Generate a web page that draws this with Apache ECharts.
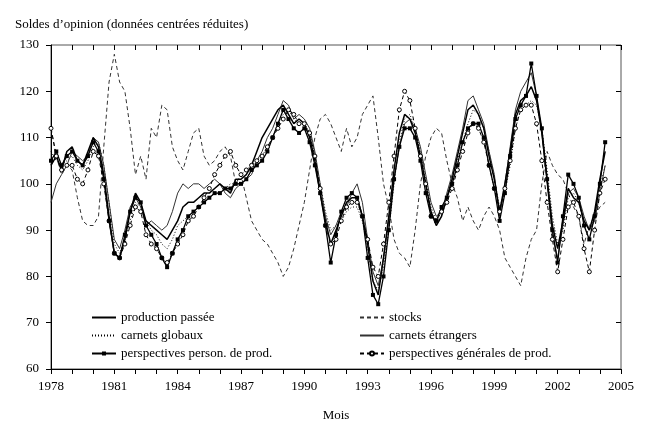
<!DOCTYPE html>
<html><head><meta charset="utf-8">
<script src="https://cdn.jsdelivr.net/npm/echarts@6/dist/echarts.min.js"></script>
<style>html,body{margin:0;padding:0;background:#fff}#c{width:650px;height:427px}</style>
</head><body><div id="c"></div>
<script>
// Quarterly observations, 1978 Q1 .. 2004 Q2 (time in decimal years)
const startYear = 1978;
const nQuarters = 106;
const quarters = Array.from({length: nQuarters}, (_, i) => startYear + i / 4);

const productionPassee = [
104,106,103,107, 108,105,104,107, 110,108,102,93, 85,84,88,94,
98,96,92,91, 90,89,88,90, 92,95,96,96, 97,98,98,99,
100,99,98,101, 101,102,104,107, 110,112,114,116, 117,115,113,114,
113,110,105,98, 92,87,90,93, 96,97,97,93, 87,79,76,84,
93,103,111,115, 114,111,106,100, 94,91,93,97, 101,106,111,116,
117,115,112,106, 101,94,100,107, 115,118,119,121, 118,111,101,91,
86,92,99,97, 96,92,90,94, 101,107];

const carnetsGlobaux = [
107,105,104,105, 106,104,103,105, 108,109,104,96, 87,85,88,92,
96,95,92,90, 89,87,86,88, 91,92,93,94, 95,96,97,98,
98,99,100,100, 100,101,103,105, 106,108,110,113, 115,116,114,113,
113,111,106,100, 94,90,91,92, 94,95,95,92, 86,79,77,82,
90,100,109,114, 115,112,107,101, 95,92,93,97, 101,105,109,113,
116,115,112,107, 101,95,98,104, 112,116,117,118, 117,112,103,93,
87,90,97,98, 96,92,90,93, 99,104];

const carnetsEtrangers = [
96,100,102,104, 107,106,105,106, 110,109,104,96, 88,86,90,95,
97,95,91,92, 91,90,91,94, 98,100,99,100, 100,99,100,101,
100,98,97,99, 100,101,102,105, 107,110,112,115, 118,117,114,115,
114,112,107,100, 93,89,91,94, 95,98,100,96, 88,81,78,84,
92,101,108,113, 114,112,108,102, 96,93,94,98, 102,107,112,118,
119,116,113,107, 102,93,100,108, 116,120,122,124, 119,111,100,89,
84,91,98,99, 97,93,90,92, 98,104];

const perspPerson = [
105,107,104,106, 107,105,104,106, 109,107,101,92, 85,84,89,94,
97,96,91,89, 87,84,82,85, 88,90,93,94, 95,96,97,98,
98,99,99,100, 100,101,103,104, 105,107,110,113, 116,114,112,111,
112,109,104,98, 91,83,89,94, 97,98,97,93, 84,76,74,80,
90,101,108,112, 112,110,105,98, 93,92,95,97, 100,104,109,112,
113,113,110,104, 99,92,98,106, 114,117,119,126, 119,112,101,90,
83,93,102,100, 97,91,88,93, 100,109];

const perspGenerales = [
112,106,103,104, 104,101,100,103, 107,106,100,92, 85,84,87,91,
95,94,89,87, 86,84,83,85, 87,89,92,93, 95,97,99,102,
104,106,107,104, 102,103,104,105, 106,108,110,112, 114,116,115,113,
113,111,106,99, 91,87,88,92, 95,96,96,93, 88,82,80,87,
96,106,116,120, 118,112,106,100, 93,92,94,96, 99,103,107,111,
113,112,109,104, 99,94,99,105, 112,116,117,117, 113,105,96,88,
81,88,95,96, 93,86,81,90, 98,101];

const stocks = [
112,106,102,104, 103,97,92,91, 91,93,108,122, 128,122,120,112,
102,106,101,112, 110,117,116,108, 105,103,107,111, 112,106,104,105,
107,108,106,100, 102,97,92,90, 88,87,85,83, 80,82,86,91,
96,103,110,114, 115,113,110,107, 112,108,110,115, 117,119,110,100,
95,88,85,84, 82,90,100,106, 110,112,111,105, 100,97,92,95,
92,90,93,95, 93,90,84,82, 80,78,84,88, 90,100,107,104,
102,101,98,95, 93,87,91,93, 95,96];

const yTicks = {min: 60, max: 130, step: 10};
const xTicks = {min: 1978, max: 2005, step: 1, labelEvery: 3};

const names = {
  pp: 'production passée', cg: 'carnets globaux', pperso: 'perspectives person. de prod.',
  st: 'stocks', ce: 'carnets étrangers', pg: 'perspectives générales de prod.'
};

const pair = arr => arr.map((v, i) => [quarters[i], v]);
const FONT = 'Liberation Serif';
const lineOnly = name => ({name: name, itemStyle: {opacity: 0}});

const chart = echarts.init(document.getElementById('c'), null, {renderer: 'canvas'});
const baseX = {type: 'value', min: xTicks.min, max: xTicks.max, interval: xTicks.step, splitLine: {show: false}};
const baseY = {type: 'value', min: yTicks.min, max: yTicks.max, interval: yTicks.step, splitLine: {show: false}};
const legendCommon = {orient: 'vertical', top: 311, itemGap: 5, itemWidth: 24, itemHeight: 5, padding: 0,
  textStyle: {fontFamily: FONT, fontSize: 13, color: '#000'}};
chart.setOption({
  animation: false,
  backgroundColor: '#fff',
  textStyle: {fontFamily: FONT, color: '#000'},
  title: {text: 'Soldes d\u2019opinion (données centrées réduites)', left: 10, top: 13,
    textStyle: {fontFamily: FONT, fontSize: 13, fontWeight: 'normal', color: '#000'}},
  grid: {left: 51, right: 29, top: 45, bottom: 55, show: true, borderColor: '#555', borderWidth: 1, backgroundColor: 'transparent'},
  xAxis: [
    Object.assign({}, baseX, {
      name: 'Mois', nameLocation: 'middle', nameGap: 40,
      nameTextStyle: {fontFamily: FONT, fontSize: 13, color: '#000'},
      axisLine: {onZero: false, lineStyle: {color: '#000', width: 1}},
      axisTick: {length: 5, lineStyle: {color: '#000'}},
      axisLabel: {fontFamily: FONT, fontSize: 13, color: '#000', margin: 11,
        formatter: v => ((Math.round(v) - xTicks.min) % xTicks.labelEvery === 0 ? String(Math.round(v)) : '')}
    }),
    Object.assign({}, baseX, {
      axisLine: {show: false, onZero: false}, axisTick: {inside: true, length: 5, lineStyle: {color: '#000'}},
      axisLabel: {show: false}
    })
  ],
  yAxis: [
    Object.assign({}, baseY, {
      axisLine: {show: true, onZero: false, lineStyle: {color: '#000', width: 1}},
      axisTick: {show: true, length: 5, lineStyle: {color: '#000'}},
      axisLabel: {fontFamily: FONT, fontSize: 13, color: '#000', margin: 12}
    }),
    Object.assign({}, baseY, {
      axisLine: {show: false, onZero: false}, axisTick: {show: true, inside: true, length: 5, lineStyle: {color: '#000'}},
      axisLabel: {show: false}
    })
  ],
  legend: [
    Object.assign({}, legendCommon, {left: 91,
      data: [lineOnly(names.pp), lineOnly(names.cg), {name: names.pperso}]}),
    Object.assign({}, legendCommon, {left: 359,
      data: [lineOnly(names.st), lineOnly(names.ce), {name: names.pg}]})
  ],
  series: [
    {name: names.st, type: 'line', data: pair(stocks), symbol: 'none',
      lineStyle: {color: '#333', width: 1, type: [4, 3]}, itemStyle: {color: '#333'}},
    {name: names.cg, type: 'line', data: pair(carnetsGlobaux), symbol: 'none',
      lineStyle: {color: '#000', width: 1, type: [1, 2]}, itemStyle: {color: '#000'}},
    {name: names.ce, type: 'line', data: pair(carnetsEtrangers), symbol: 'none',
      lineStyle: {color: '#333', width: 1}, itemStyle: {color: '#333'}},
    {name: names.pg, type: 'line', data: pair(perspGenerales), symbol: 'circle', symbolSize: 4,
      lineStyle: {color: '#000', width: 1, type: [4, 3]}, itemStyle: {color: '#fff', borderColor: '#000', borderWidth: 1}},
    {name: names.pperso, type: 'line', data: pair(perspPerson), symbol: 'rect', symbolSize: 4,
      lineStyle: {color: '#000', width: 1.3}, itemStyle: {color: '#000'}},
    {name: names.pp, type: 'line', data: pair(productionPassee), symbol: 'none',
      lineStyle: {color: '#000', width: 1.5}, itemStyle: {color: '#000'}}
  ]
});
</script>
</body></html>
